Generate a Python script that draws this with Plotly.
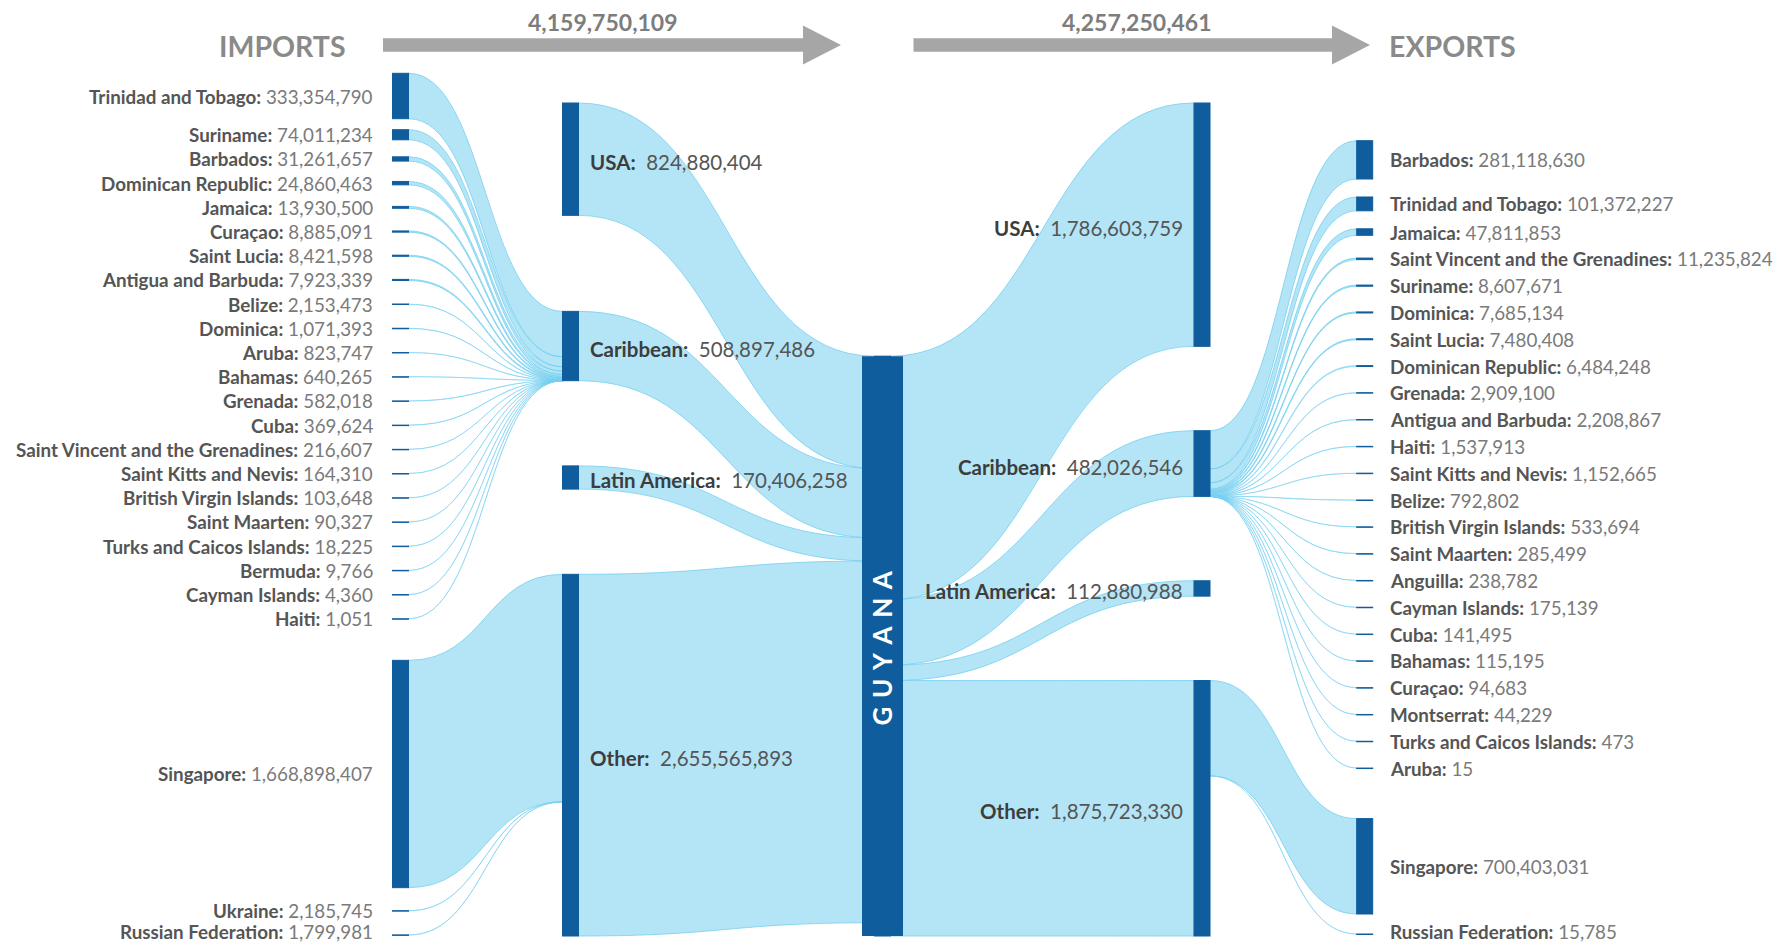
import plotly.graph_objects as go

# ---------------- data ----------------
imp_carib_names = ["Trinidad and Tobago", "Suriname", "Barbados", "Dominican Republic", "Jamaica",
                   "Curaçao", "Saint Lucia", "Antigua and Barbuda", "Belize", "Dominica", "Aruba",
                   "Bahamas", "Grenada", "Cuba", "Saint Vincent and the Grenadines",
                   "Saint Kitts and Nevis", "British Virgin Islands", "Saint Maarten",
                   "Turks and Caicos Islands", "Bermuda", "Cayman Islands", "Haiti"]
imp_carib_vals = [333354790, 74011234, 31261657, 24860463, 13930500, 8885091, 8421598, 7923339,
                  2153473, 1071393, 823747, 640265, 582018, 369624, 216607, 164310, 103648, 90327,
                  18225, 9766, 4360, 1051]
imp_other_names = ["Singapore", "Ukraine", "Russian Federation"]
imp_other_vals = [1668898407, 2185745, 1799981]

region_names = ["USA", "Caribbean", "Latin America", "Other"]
imp_region_vals = [824880404, 508897486, 170406258, 2655565893]
exp_region_vals = [1786603759, 482026546, 112880988, 1875723330]

exp_carib_names = ["Barbados", "Trinidad and Tobago", "Jamaica", "Saint Vincent and the Grenadines",
                   "Suriname", "Dominica", "Saint Lucia", "Dominican Republic", "Grenada",
                   "Antigua and Barbuda", "Haiti", "Saint Kitts and Nevis", "Belize",
                   "British Virgin Islands", "Saint Maarten", "Anguilla", "Cayman Islands", "Cuba",
                   "Bahamas", "Curaçao", "Montserrat", "Turks and Caicos Islands", "Aruba"]
exp_carib_vals = [281118630, 101372227, 47811853, 11235824, 8607671, 7685134, 7480408, 6484248,
                  2909100, 2208867, 1537913, 1152665, 792802, 533694, 285499, 238782, 175139,
                  141495, 115195, 94683, 44229, 473, 15]
exp_other_names = ["Singapore", "Russian Federation"]
exp_other_vals = [700403031, 15785]

hub_name = "GUYANA"
total_imports = 4159750109
total_exports = 4257250461

# ---------------- layout parameters ----------------
W, H = 1775, 943
KY = 0.1362e-6            # pixels per unit of value
NODE_T = 16
COL_X = [400.5, 570.5, 882.5, 1202.0, 1364.7]
HUB_W = 41
TOP, BOTTOM = 103.0, 936.0
NODE_COLOR = "#105d9d"
LINK_COLOR = "rgba(118,207,240,0.55)"
LINK_LINE = "rgba(118,207,240,0.8)"
FONT = "Lato"


def h(v):
    return v * KY


def stack_down(vals, top, step, gap):
    cs = [top + h(vals[0]) / 2]
    for i in range(1, len(vals)):
        cs.append(cs[-1] + max(step, h(vals[i - 1]) / 2 + h(vals[i]) / 2 + gap))
    return cs


def stack_up(vals, last_center, step, gap):
    cs = [last_center]
    for i in range(len(vals) - 2, -1, -1):
        cs.insert(0, cs[0] - max(step, h(vals[i + 1]) / 2 + h(vals[i]) / 2 + gap))
    return cs


def justify(vals, top, bottom):
    hs = [h(v) for v in vals]
    g = (bottom - top - sum(hs)) / (len(vals) - 1)
    cs, y = [], top
    for hh in hs:
        cs.append(y + hh / 2)
        y += hh + g
    return cs


# ---------------- country node positions ----------------
ica_y = stack_down(imp_carib_vals, 73.3, 24.2, 11)
ioth_y = stack_up(imp_other_vals, 935.0, 24.2, 23)
eca_y = stack_down(exp_carib_vals, 140.7, 26.8, 18)
eoth_y = stack_up(exp_other_vals, 934.0, 26.8, 20)

# ---------------- region node positions ----------------
exp_reg_y = justify(exp_region_vals, TOP, BOTTOM)
# imports: USA at top, Other at bottom, Caribbean centred on its feeder countries,
# Latin America centred in the remaining gap
imp_h = [h(v) for v in imp_region_vals]
usa_c = TOP + imp_h[0] / 2
oth_c = BOTTOM - imp_h[3] / 2
car_c = (ica_y[0] - h(imp_carib_vals[0]) / 2 + ica_y[-1]) / 2
lat_c = ((car_c + imp_h[1] / 2) + (oth_c - imp_h[3] / 2)) / 2
imp_reg_y = [usa_c, car_c, lat_c, oth_c]

hub_val = max(sum(imp_region_vals), sum(exp_region_vals))
hub_y = BOTTOM - h(hub_val) / 2

# ---------------- build nodes / links ----------------
nodes = []   # dict(name, x, y)
links = []   # (src, tgt, value)


def add_node(name, x, y):
    nodes.append(dict(name=name, x=x, y=y))
    return len(nodes) - 1


imp_reg_idx = [add_node(n, COL_X[1], y) for n, y in zip(region_names, imp_reg_y)]
hub_idx = add_node(hub_name, COL_X[2], hub_y)
exp_reg_idx = [add_node(n, COL_X[3], y) for n, y in zip(region_names, exp_reg_y)]

imp_country = []
for names, vals, ys, reg in [(imp_carib_names, imp_carib_vals, ica_y, 1),
                             (imp_other_names, imp_other_vals, ioth_y, 3)]:
    for n, v, y in zip(names, vals, ys):
        i = add_node(n, COL_X[0], y)
        links.append((i, imp_reg_idx[reg], v))
        imp_country.append((i, v))

for r, v in zip(imp_reg_idx, imp_region_vals):
    links.append((r, hub_idx, v))
for r, v in zip(exp_reg_idx, exp_region_vals):
    links.append((hub_idx, r, v))

exp_country = []
for names, vals, ys, reg in [(exp_carib_names, exp_carib_vals, eca_y, 1),
                             (exp_other_names, exp_other_vals, eoth_y, 3)]:
    for n, v, y in zip(names, vals, ys):
        i = add_node(n, COL_X[4], y)
        links.append((exp_reg_idx[reg], i, v))
        exp_country.append((i, v))

N = len(nodes)
vin = [0] * N
vout = [0] * N
for s, t, v in links:
    vout[s] += v
    vin[t] += v
node_val = [max(a, b) for a, b in zip(vin, vout)]

# node padding so that the sankey's own scale equals KY (first column is the binding one)
col0 = [i for i in range(N) if vin[i] == 0]
pad = (H - KY * sum(node_val[i] for i in col0)) / (len(col0) - 1)

node_line_w = [2.6 if h(v) < 2.6 else 0 for v in node_val]
link_line_w = [1.0 if h(v) < 1.0 else 0 for _, _, v in links]

fig = go.Figure(go.Sankey(
    arrangement="fixed",
    domain=dict(x=[0, 1], y=[0, 1]),
    node=dict(
        label=[""] * N,
        customdata=[n["name"] for n in nodes],
        hovertemplate="%{customdata}: %{value:,}<extra></extra>",
        x=[n["x"] / W for n in nodes],
        y=[n["y"] / H for n in nodes],
        pad=pad,
        thickness=NODE_T,
        color=NODE_COLOR,
        line=dict(color=NODE_COLOR, width=node_line_w),
    ),
    link=dict(
        source=[l[0] for l in links],
        target=[l[1] for l in links],
        value=[l[2] for l in links],
        color=LINK_COLOR,
        line=dict(color=LINK_LINE, width=link_line_w),
        hoverinfo="skip",
    ),
))


def px(x):
    return x / W


def py(y):
    return 1 - y / H


annotations = []
LABEL_MAX_Y = H - 12


def label(x, y, name, val, anchor, size, name_col, val_col, sep=" "):
    annotations.append(dict(
        x=px(x), y=py(min(y, LABEL_MAX_Y)), xref="paper", yref="paper",
        xanchor=anchor, yanchor="middle",
        showarrow=False, align=anchor,
        text=f"<span style='color:{name_col}'><b>{name}:</b></span>{sep}"
             f"<span style='color:{val_col}'>{val:,}</span>",
        font=dict(family=FONT, size=size),
    ))


# country labels
for i, v in imp_country:
    label(COL_X[0] - NODE_T / 2 - 18, nodes[i]["y"], nodes[i]["name"], v, "right", 18.8,
          "#555555", "#7a7a7a")
for i, v in exp_country:
    label(COL_X[4] + NODE_T / 2 + 15, nodes[i]["y"], nodes[i]["name"], v, "left", 18.8,
          "#555555", "#7a7a7a")
# region labels
for i, v in zip(imp_reg_idx, imp_region_vals):
    label(COL_X[1] + NODE_T / 2 + 9, nodes[i]["y"] + 3, nodes[i]["name"], v, "left", 20.5,
          "#3d3d3d", "#555555", "\u00a0 ")
for i, v in zip(exp_reg_idx, exp_region_vals):
    label(COL_X[3] - NODE_T / 2 - 9, nodes[i]["y"] + 3, nodes[i]["name"], v, "right", 20.5,
          "#3d3d3d", "#555555", "\u00a0 ")

# hub (wider bar with vertical title)
hub_top = hub_y - h(node_val[hub_idx]) / 2
hub_bot = hub_y + h(node_val[hub_idx]) / 2
shapes = [dict(type="rect", xref="paper", yref="paper", layer="above",
               x0=px(COL_X[2] - HUB_W / 2), x1=px(COL_X[2] + HUB_W / 2),
               y0=py(hub_bot), y1=py(hub_top), fillcolor=NODE_COLOR, line=dict(width=0))]
annotations.append(dict(x=px(COL_X[2]), y=py(hub_y + 2), xref="paper", yref="paper",
                        xanchor="center", yanchor="middle",
                        showarrow=False, textangle=-90,
                        text="<b>" + "\u2004".join(hub_name) + "</b>",
                        font=dict(family=FONT, size=26, color="white")))


# header arrows
def arrow(x0, x1, yc, shaft=13.4, head_len=38, head_h=39):
    xh = x1 - head_len
    pts = [(x0, yc - shaft / 2), (xh, yc - shaft / 2), (xh, yc - head_h / 2), (x1, yc),
           (xh, yc + head_h / 2), (xh, yc + shaft / 2), (x0, yc + shaft / 2)]
    path = "M " + " L ".join(f"{px(a):.5f},{py(b):.5f}" for a, b in pts) + " Z"
    return dict(type="path", xref="paper", yref="paper", path=path,
                fillcolor="#a6a6a6", line=dict(width=0))


shapes.append(arrow(383, 841, 45))
shapes.append(arrow(913.5, 1370, 45))

for text, x, y, size in [("IMPORTS", 282.5, 46, 28.5), ("EXPORTS", 1452.5, 46, 28.5),
                         (f"{total_imports:,}", 602.5, 22, 23),
                         (f"{total_exports:,}", 1137, 22, 23)]:
    annotations.append(dict(x=px(x), y=py(y), xref="paper", yref="paper", showarrow=False,
                            xanchor="center", yanchor="middle", text=f"<b>{text}</b>",
                            font=dict(family=FONT, size=size,
                                      color="#8a8a8a" if size > 25 else "#7d7d7d")))

fig.update_layout(
    width=W, height=H,
    margin=dict(l=0, r=0, t=0, b=0),
    paper_bgcolor="white", plot_bgcolor="white",
    font=dict(family=FONT),
    annotations=annotations,
    shapes=shapes,
    showlegend=False,
)

fig.write_html("out.html", config={"displayModeBar": False},
               post_script="document.body.style.margin='0';document.body.style.overflow='hidden';")
